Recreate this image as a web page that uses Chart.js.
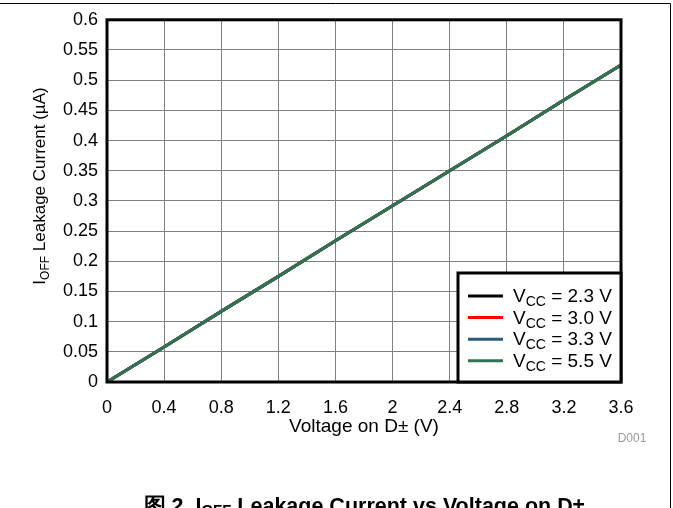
<!DOCTYPE html>
<html>
<head>
<meta charset="utf-8">
<script src="https://cdn.jsdelivr.net/npm/chart.js@4.4.0/dist/chart.umd.min.js"></script>
<style>
  body { margin: 0; background: #fff; }
  #chart { display: block; }
</style>
</head>
<body>
<canvas id="chart" width="673" height="508"></canvas>
<script>
// data
var voltages = [0, 0.4, 0.8, 1.2, 1.6, 2.0, 2.4, 2.8, 3.2, 3.6];
var vcc23 = [0, 0.058, 0.117, 0.175, 0.234, 0.292, 0.350, 0.408, 0.467, 0.525];
var vcc30 = [0, 0.058, 0.117, 0.175, 0.234, 0.292, 0.350, 0.408, 0.467, 0.525];
var vcc33 = [0, 0.058, 0.117, 0.175, 0.234, 0.292, 0.350, 0.408, 0.467, 0.525];
var vcc55 = [0, 0.058, 0.117, 0.175, 0.234, 0.292, 0.350, 0.408, 0.467, 0.525];
var seriesNames = ['2.3 V', '3.0 V', '3.3 V', '5.5 V'];
var seriesColors = ['#000000', '#ff0000', '#2b5b7a', '#2f7350'];

var FONT = 'Arial, "Liberation Sans", sans-serif';

function toPoints(ys) {
    return ys.map(function (y, i) { return { x: voltages[i], y: y }; });
}

// draws "main" + subscript + rest, returns width
function subText(ctx, parts, x, y, size, align, weight, drop) {
    var w = weight ? weight + ' ' : '';
    var big = w + size + 'px ' + FONT;
    var small = w + Math.round(size * 0.72) + 'px ' + FONT;
    var dy = drop === undefined ? size * 0.22 : drop;
    ctx.font = big; var w1 = ctx.measureText(parts[0]).width;
    ctx.font = small; var w2 = ctx.measureText(parts[1]).width;
    ctx.font = big; var w3 = ctx.measureText(parts[2]).width;
    var total = w1 + w2 + w3;
    var sx = align === 'center' ? x - total / 2 : x;
    ctx.textAlign = 'left';
    ctx.textBaseline = 'alphabetic';
    ctx.font = big; ctx.fillText(parts[0], sx, y);
    ctx.font = small; ctx.fillText(parts[1], sx + w1, y + dy);
    ctx.font = big; ctx.fillText(parts[2], sx + w1 + w2, y);
    return total;
}

var decorations = {
    id: 'decorations',
    afterDraw: function (chart) {
        var ctx = chart.ctx;
        var a = chart.chartArea;
        var midX = (a.left + a.right) / 2;
        ctx.save();

        // page frame
        ctx.strokeStyle = '#000';
        ctx.lineWidth = 1;
        ctx.beginPath();
        ctx.moveTo(0, 3.5); ctx.lineTo(670.5, 3.5); ctx.lineTo(670.5, 508);
        ctx.stroke();

        // plot border
        ctx.lineWidth = 3;
        ctx.strokeRect(a.left, a.top, a.right - a.left, a.bottom - a.top);

        // legend
        var lx = 458, ly = 273, lw = a.right - 458, lh = a.bottom - 273;
        ctx.fillStyle = '#fff';
        ctx.fillRect(lx, ly, lw, lh);
        ctx.strokeRect(lx, ly, lw, lh);
        for (var i = 0; i < seriesNames.length; i++) {
            var ry = 296 + i * 21.6;
            ctx.strokeStyle = seriesColors[i];
            ctx.lineWidth = 3;
            ctx.beginPath(); ctx.moveTo(468, ry); ctx.lineTo(503, ry); ctx.stroke();
            ctx.fillStyle = '#000';
            subText(ctx, ['V', 'CC', ' = ' + seriesNames[i]], 513, ry + 6, 19, 'left');
        }

        // axis titles
        ctx.fillStyle = '#000';
        subText(ctx, ['Voltage on D\u00b1 (V)', '', ''], midX, 432, 19, 'center');
        ctx.save();
        ctx.translate(45, 186);
        ctx.rotate(-Math.PI / 2);
        subText(ctx, ['I', 'OFF', ' Leakage Current (\u00b5A)'], 0, 0, 17, 'center');
        ctx.restore();

        // figure id
        ctx.fillStyle = '#999';
        ctx.font = '12px ' + FONT;
        ctx.textAlign = 'center';
        ctx.fillText('D001', 632, 442);

        // caption (cut by the page bottom)
        ctx.fillStyle = '#000';
        subText(ctx, ['\u56fe 2. I', 'OFF', ' Leakage Current vs Voltage on D\u00b1'], midX, 513, 21.5, 'center', 'bold', 2);

        ctx.restore();
    }
};

function fmt(v) {
    return String(Number(v.toFixed(2)));
}

new Chart(document.getElementById('chart'), {
    type: 'line',
    data: {
        datasets: [
            { label: 'VCC = 2.3 V', data: toPoints(vcc23), borderColor: seriesColors[0], order: 3 },
            { label: 'VCC = 3.0 V', data: toPoints(vcc30), borderColor: seriesColors[1], order: 2 },
            { label: 'VCC = 3.3 V', data: toPoints(vcc33), borderColor: seriesColors[2], order: 1 },
            { label: 'VCC = 5.5 V', data: toPoints(vcc55), borderColor: seriesColors[3], order: 0 }
        ]
    },
    options: {
        responsive: false,
        animation: false,
        layout: { padding: { left: 0, top: 18, right: 52, bottom: 0 } },
        elements: {
            point: { radius: 0 },
            line: { borderWidth: 3, tension: 0 }
        },
        plugins: {
            legend: { display: false },
            tooltip: { enabled: false }
        },
        scales: {
            x: {
                type: 'linear',
                min: 0,
                max: 3.6,
                afterFit: function (s) { s.height = 126; },
                afterBuildTicks: function (s) {
                    s.ticks = voltages.map(function (v) { return { value: v }; });
                },
                grid: { color: '#808080', lineWidth: 1, drawTicks: false },
                border: { display: false },
                ticks: {
                    color: '#000',
                    padding: 15,
                    maxRotation: 0,
                    font: { family: FONT, size: 18 },
                    callback: function (v) { return fmt(v); }
                }
            },
            y: {
                min: 0,
                max: 0.6,
                afterFit: function (s) { s.width = 107; },
                grid: { color: '#808080', lineWidth: 1, drawTicks: false },
                border: { display: false },
                ticks: {
                    stepSize: 0.05,
                    color: '#000',
                    padding: 9,
                    font: { family: FONT, size: 18 },
                    callback: function (v) { return fmt(v); }
                }
            }
        }
    },
    plugins: [decorations]
});
</script>
</body>
</html>
